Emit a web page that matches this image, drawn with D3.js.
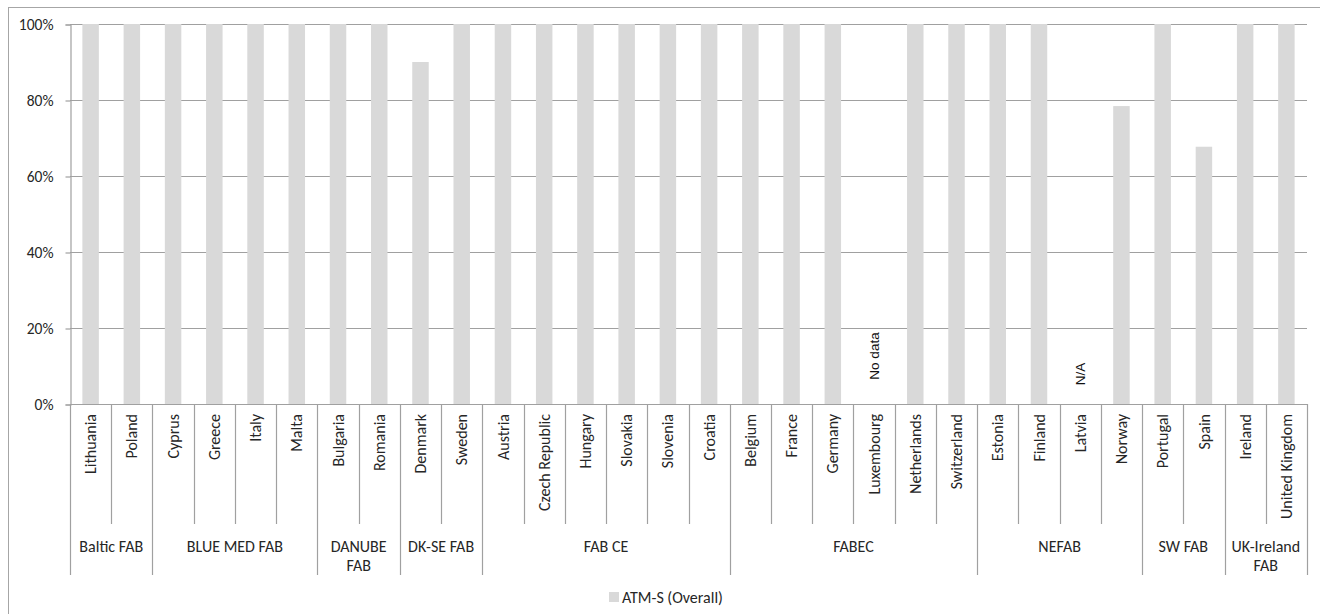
<!DOCTYPE html>
<html>
<head>
<meta charset="utf-8">
<script src="https://cdn.jsdelivr.net/npm/d3@7"></script>
<style>
  html, body { margin: 0; padding: 0; background: #fff; }
  svg { display: block; }
  text { font-family: Calibri, Carlito, Lato, sans-serif; fill: #262626; }
</style>
</head>
<body>
<svg id="chart" width="1320" height="614"></svg>
<script>
// ATM-S (Overall) share per state, grouped by FAB
const countries = [
  "Lithuania", "Poland",
  "Cyprus", "Greece", "Italy", "Malta",
  "Bulgaria", "Romania",
  "Denmark", "Sweden",
  "Austria", "Czech Republic", "Hungary", "Slovakia", "Slovenia", "Croatia",
  "Belgium", "France", "Germany", "Luxembourg", "Netherlands", "Switzerland",
  "Estonia", "Finland", "Latvia", "Norway",
  "Portugal", "Spain",
  "Ireland", "United Kingdom"
];
const groupOfCountry = [
  "Baltic FAB", "Baltic FAB",
  "BLUE MED FAB", "BLUE MED FAB", "BLUE MED FAB", "BLUE MED FAB",
  "DANUBE FAB", "DANUBE FAB",
  "DK-SE FAB", "DK-SE FAB",
  "FAB CE", "FAB CE", "FAB CE", "FAB CE", "FAB CE", "FAB CE",
  "FABEC", "FABEC", "FABEC", "FABEC", "FABEC", "FABEC",
  "NEFAB", "NEFAB", "NEFAB", "NEFAB",
  "SW FAB", "SW FAB",
  "UK-Ireland FAB", "UK-Ireland FAB"
];
const groups = ["Baltic FAB", "BLUE MED FAB", "DANUBE FAB", "DK-SE FAB", "FAB CE",
                "FABEC", "NEFAB", "SW FAB", "UK-Ireland FAB"];
// null = no bar; a note is written instead
const atmsOverall = [
  1, 1,
  1, 1, 1, 1,
  1, 1,
  0.90, 1,
  1, 1, 1, 1, 1, 1,
  1, 1, 1, null, 1, 1,
  1, 1, null, 0.784,
  1, 0.677,
  1, 1
];
const notes = { "Luxembourg": "No data", "Latvia": "N/A" };
const yTicks = [0, 0.2, 0.4, 0.6, 0.8, 1.0];
const seriesName = "ATM-S (Overall)";

(function draw() {
  const svg = d3.select("#chart");
  const barColor = "#d9d9d9";
  const lineColor = "#a0a0a0";
  const labelSize = 16;

  const plotLeft = 70, plotRight = 1307, plotTop = 24, plotBottom = 404;
  const catLineBottom = 524, groupLineBottom = 575;

  const x = d3.scaleBand().domain(countries).range([plotLeft, plotRight])
    .paddingInner(0.6).paddingOuter(0.3);
  const y = d3.scaleLinear().domain([0, 1]).range([plotBottom, plotTop]);

  // chart frame
  svg.append("rect")
    .attr("x", 8.5).attr("y", 7.5).attr("width", 1340).attr("height", 640)
    .attr("fill", "none").attr("stroke", "#a6a6a6").attr("stroke-width", 1);

  // gridlines
  svg.append("g").selectAll("line").data(yTicks.filter(d => d > 0)).join("line")
    .attr("x1", plotLeft).attr("x2", plotRight)
    .attr("y1", d => Math.round(y(d)) + 0.5).attr("y2", d => Math.round(y(d)) + 0.5)
    .attr("stroke", lineColor).attr("stroke-width", 1.2);

  // y axis
  const yAxis = d3.axisLeft(y).tickValues(yTicks).tickFormat(d3.format(".0%"))
    .tickSize(5).tickPadding(12);
  const gy = svg.append("g").attr("transform", `translate(${plotLeft + 0.5},0.5)`).call(yAxis);
  gy.select(".domain").attr("stroke", lineColor).attr("stroke-width", 1.2);
  gy.selectAll(".tick line").attr("stroke", lineColor).attr("stroke-width", 1.2);
  gy.selectAll(".tick text").attr("font-size", 15.5)
    .attr("font-family", "Calibri, Carlito, Lato, sans-serif").attr("fill", "#262626");

  // bars
  const data = countries.map((c, i) => ({ country: c, group: groupOfCountry[i], value: atmsOverall[i] }));
  svg.append("g").selectAll("rect").data(data.filter(d => d.value != null)).join("rect")
    .attr("x", d => x(d.country))
    .attr("width", x.bandwidth())
    .attr("y", d => y(d.value))
    .attr("height", d => y(0) - y(d.value))
    .attr("fill", barColor);

  // notes for missing values
  const noteLift = { "No data": 48, "N/A": 30 };
  svg.append("g").selectAll("text").data(data.filter(d => d.value == null)).join("text")
    .attr("transform", d => `translate(${x(d.country) + x.bandwidth() / 2},${y(0) - noteLift[notes[d.country]]}) rotate(-90)`)
    .attr("text-anchor", "middle").attr("dy", "0.35em")
    .style("font-family", "Arial, 'Liberation Sans', sans-serif").attr("font-size", 13.5)
    .style("fill", "#111")
    .text(d => notes[d.country]);

  // x axis baseline
  svg.append("line")
    .attr("x1", plotLeft).attr("x2", plotRight)
    .attr("y1", Math.round(y(0)) + 0.5).attr("y2", Math.round(y(0)) + 0.5)
    .attr("stroke", lineColor).attr("stroke-width", 1.2);

  // separators between categories and groups
  const step = x.step();
  const boundaries = d3.range(countries.length + 1).map(i => {
    const isGroupEdge = i === 0 || i === countries.length || groupOfCountry[i] !== groupOfCountry[i - 1];
    return { xPos: plotLeft + i * step, isGroupEdge };
  });
  svg.append("g").selectAll("line").data(boundaries).join("line")
    .attr("x1", d => Math.round(d.xPos) + 0.5).attr("x2", d => Math.round(d.xPos) + 0.5)
    .attr("y1", plotBottom).attr("y2", d => d.isGroupEdge ? groupLineBottom : catLineBottom)
    .attr("stroke", lineColor).attr("stroke-width", 1.2);

  // country labels
  svg.append("g").selectAll("text").data(countries).join("text")
    .attr("transform", d => `translate(${x(d) + x.bandwidth() / 2},${plotBottom + 10}) rotate(-90)`)
    .attr("text-anchor", "end").attr("dy", "0.35em")
    .attr("font-size", labelSize)
    .text(d => d);

  // group labels, wrapped to the group's width
  const groupSpans = groups.map(g => {
    const idx = countries.map((c, i) => i).filter(i => groupOfCountry[i] === g);
    const x0 = plotLeft + d3.min(idx) * step, x1 = plotLeft + (d3.max(idx) + 1) * step;
    return { name: g, x0, x1 };
  });
  const gLabels = svg.append("g");
  groupSpans.forEach(s => {
    const cx = (s.x0 + s.x1) / 2;
    const t = gLabels.append("text")
      .attr("x", cx).attr("y", 546)
      .attr("text-anchor", "middle").attr("font-size", labelSize);
    const words = s.name.split(" ");
    const maxW = s.x1 - s.x0 - 4;
    const lines = [];
    let cur = [];
    words.forEach(w => {
      t.text(cur.concat(w).join(" "));
      if (cur.length && t.node().getComputedTextLength() > maxW) {
        lines.push(cur.join(" "));
        cur = [w];
      } else cur.push(w);
    });
    lines.push(cur.join(" "));
    t.text(null);
    lines.forEach((ln, i) => {
      t.append("tspan").attr("x", cx).attr("dy", i === 0 ? "0.35em" : 19.5).text(ln);
    });
  });

  // legend
  const lg = svg.append("g").attr("transform", "translate(609,592)");
  lg.append("rect").attr("width", 10).attr("height", 10).attr("fill", barColor);
  lg.append("text").attr("x", 13).attr("y", 5).attr("dy", "0.35em").attr("font-size", labelSize).text(seriesName);
})();
</script>
</body>
</html>
